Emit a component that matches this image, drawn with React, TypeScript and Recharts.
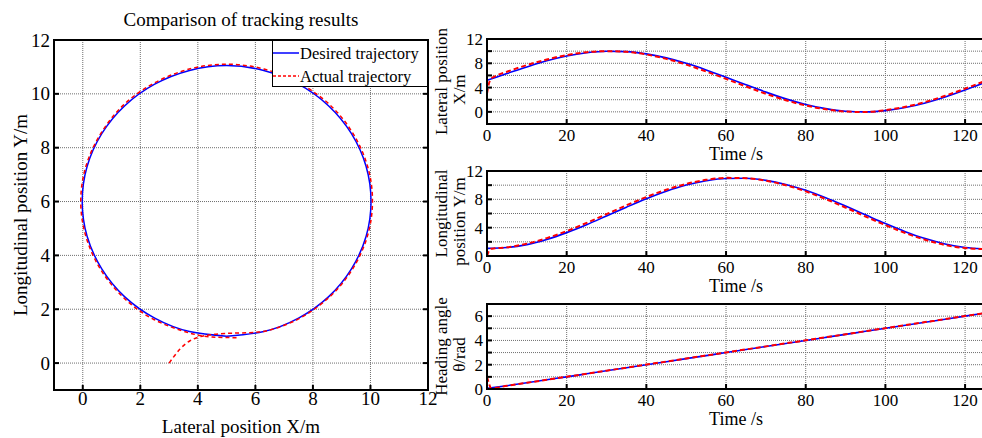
import React from 'react';
import { LineChart, Line, XAxis, YAxis, CartesianGrid } from 'recharts';

const SERIF = '"Liberation Serif", "Times New Roman", Times, serif';
const BLUE = '#0000ff';
const RED = '#ff0000';
const GRID = '#6e6e6e';

// left plot: trajectory in the X-Y plane (m)
const PATH_X_DESIRED = [5.0, 6.29, 7.5, 8.54, 9.34, 9.85, 10.02, 9.85, 9.34, 8.54, 7.5, 6.29, 5.0, 3.71, 2.5, 1.46, 0.66, 0.15, -0.02, 0.15, 0.66, 1.46, 2.5, 3.71, 5.0];
const PATH_Y_DESIRED = [1.0, 1.17, 1.67, 2.46, 3.5, 4.71, 6.0, 7.3, 8.52, 9.56, 10.36, 10.87, 11.05, 10.87, 10.36, 9.56, 8.52, 7.3, 6.0, 4.71, 3.5, 2.46, 1.67, 1.17, 1.0];
const PATH_X_ACTUAL = [3.0, 3.38, 3.73, 4.08, 4.5, 4.95, 5.5, 6.1, 6.6, 7.5, 8.56, 9.37, 9.89, 10.07, 9.9, 9.38, 8.58, 7.52, 6.3, 5.0, 3.7, 2.48, 1.43, 0.63, 0.11, -0.07, 0.11, 0.63, 1.43, 2.47, 3.7, 4.5, 5.35];
const PATH_Y_ACTUAL = [0.0, 0.52, 0.83, 0.98, 1.06, 1.1, 1.12, 1.15, 1.26, 1.64, 2.44, 3.48, 4.7, 6.0, 7.31, 8.55, 9.6, 10.4, 10.92, 11.1, 10.92, 10.4, 9.6, 8.53, 7.31, 6.0, 4.7, 3.46, 2.42, 1.62, 1.12, 0.97, 0.94];
const PLANE_DOMAIN = [-1, 12];
const PLANE_TICKS = [0, 2, 4, 6, 8, 10, 12];

// right plots: time histories
const T_DESIRED = [0, 5, 10, 15, 20, 25, 30, 35, 40, 45, 50, 55, 60, 65, 70, 75, 80, 85, 90, 95, 100, 105, 110, 115, 120, 125];
const X_DESIRED = [5.2, 6.3, 7.4, 8.41, 9.21, 9.74, 9.99, 9.92, 9.55, 8.89, 7.99, 6.91, 5.71, 4.46, 3.25, 2.14, 1.22, 0.53, 0.11, 0.0, 0.21, 0.71, 1.47, 2.45, 3.6, 4.83];
const Y_DESIRED = [1.08, 1.2, 1.61, 2.34, 3.3, 4.42, 5.65, 6.89, 8.08, 9.14, 10.01, 10.62, 10.95, 10.97, 10.68, 10.1, 9.27, 8.23, 7.05, 5.81, 4.58, 3.44, 2.46, 1.7, 1.2, 1.0];
const H_DESIRED = [0.05, 0.27, 0.51, 0.76, 1.0, 1.25, 1.5, 1.75, 2.0, 2.25, 2.5, 2.75, 3.0, 3.25, 3.5, 3.75, 4.0, 4.25, 4.5, 4.75, 5.0, 5.25, 5.5, 5.75, 6.0, 6.25];

const T_ACTUAL = [0, 0.5, 1, 2, 5, 10, 15, 20, 25, 30, 35, 40, 45, 50, 55, 60, 65, 70, 75, 80, 85, 90, 95, 100, 105, 110, 115, 120, 125];
const X_ACTUAL = [3.0, 4.7, 5.4, 5.85, 6.6, 7.7, 8.62, 9.35, 9.82, 10.0, 9.88, 9.45, 8.73, 7.78, 6.65, 5.43, 4.18, 2.98, 1.92, 1.05, 0.42, 0.05, -0.03, 0.28, 0.83, 1.63, 2.65, 3.82, 5.08];
const Y_ACTUAL = [0.0, 0.75, 1.02, 1.08, 1.22, 1.75, 2.52, 3.52, 4.67, 5.92, 7.16, 8.33, 9.36, 10.18, 10.75, 11.03, 10.98, 10.62, 10.0, 9.12, 8.04, 6.84, 5.58, 4.36, 3.24, 2.28, 1.56, 1.12, 0.98];
const H_ACTUAL = [1.0, 0.45, 0.06, 0.09, 0.26, 0.51, 0.76, 1.01, 1.26, 1.51, 1.76, 2.01, 2.26, 2.51, 2.76, 3.01, 3.26, 3.51, 3.76, 4.01, 4.26, 4.51, 4.76, 5.01, 5.26, 5.51, 5.76, 6.01, 6.26];
const TIME_DOMAIN = [0, 125];
const TIME_TICKS = [0, 20, 40, 60, 80, 100, 120];

const SERIES = [
    { name: 'Desired trajectory', color: BLUE, dash: undefined },
    { name: 'Actual trajectory', color: RED, dash: '3 2' },
];

const PANELS = [
    { id: 'lat', top: 20, des: X_DESIRED, act: X_ACTUAL, domain: [-2, 12], ticks: [-2, 0, 2, 4, 6, 8, 10, 12], shown: [0, 4, 8, 12], title: ['Lateral position', 'X/m'] },
    { id: 'lon', top: 152, des: Y_DESIRED, act: Y_ACTUAL, domain: [0, 12], ticks: [0, 2, 4, 6, 8, 10, 12], shown: [0, 4, 8, 12], title: ['Longitudinal', 'position Y/m'] },
    { id: 'head', top: 285, des: H_DESIRED, act: H_ACTUAL, domain: [0, 7], ticks: [0, 1, 2, 3, 4, 5, 6, 7], shown: [0, 2, 4, 6], title: ['Heading angle', 'θ/rad'] },
];

const zip = (xs: number[], ys: number[], kx: string, ky: string) =>
    xs.map((x, i) => ({ [kx]: x, [ky]: ys[i] }));

const TICK_LEN = 5;

// tick = inward black mark + (optional) label, placed from the axis' own tick coordinates
function makeTick(side: string, margin: number, fontSize: number, show?: (v: number) => boolean) {
    return (p: any) => {
        const { x, y, payload } = p;
        const v = payload.value;
        const txt = show && show(v) ? String(v) : '';
        const font = { fontSize, fontFamily: SERIF, fill: '#000' };
        if (side === 'bottom') {
            const y0 = y - margin;
            return (
                <g>
                    <line x1={x} x2={x} y1={y0} y2={y0 - TICK_LEN} stroke="#000" strokeWidth={2} />
                    {txt && <text x={x} y={y} dy="0.71em" textAnchor="middle" {...font}>{txt}</text>}
                </g>
            );
        }
        if (side === 'left') {
            const x0 = x + margin;
            return (
                <g>
                    <line x1={x0} x2={x0 + TICK_LEN} y1={y} y2={y} stroke="#000" strokeWidth={2} />
                    {txt && <text x={x} y={y} dy="0.35em" textAnchor="end" {...font}>{txt}</text>}
                </g>
            );
        }
        if (side === 'top') {
            return <line x1={x} x2={x} y1={y} y2={y + TICK_LEN} stroke="#000" strokeWidth={2} />;
        }
        return <line x1={x} x2={x - TICK_LEN} y1={y} y2={y} stroke="#000" strokeWidth={2} />;
    };
}

function PlainText({ px, py, txt, size }: any) {
    return (
        <text x={px} y={py} textAnchor="middle" fontSize={size} fontFamily={SERIF} fill="#000">
            {txt}
        </text>
    );
}

// plot frame (+ optional title), attached to the top axis
function FrameTitle({ box, txt, size, tx, ty }: any) {
    return (
        <g>
            <rect x={box[0]} y={box[1]} width={box[2]} height={box[3]} fill="none" stroke="#000" strokeWidth={2} />
            {txt && (
                <text x={tx} y={ty} textAnchor="middle" fontSize={size} fontFamily={SERIF} fill="#000">
                    {txt}
                </text>
            )}
        </g>
    );
}

// rotated axis title, one <text> per line
function SideTitle({ xs, ys, lines, size }: any) {
    return (
        <g>
            {lines.map((ln: string, i: number) => (
                <text
                    key={ln}
                    x={xs[i]}
                    y={ys[i]}
                    transform={`rotate(-90 ${xs[i]} ${ys[i]})`}
                    textAnchor="middle"
                    dy="0.33em"
                    fontSize={size}
                    fontFamily={SERIF}
                    fill="#000"
                >
                    {ln}
                </text>
            ))}
        </g>
    );
}

function LegendBox() {
    return (
        <svg width={156} height={47} style={{ display: 'block' }}>
            <rect x={0.5} y={0.5} width={155} height={46} fill="#fff" stroke="#000" strokeWidth={1} />
            {SERIES.map((s, i) => (
                <g key={s.name}>
                    <line x1={1} x2={27} y1={13 + i * 23} y2={13 + i * 23} stroke={s.color} strokeWidth={1.5} strokeDasharray={s.dash} />
                    <text x={28} y={19 + i * 22.5} fontSize={16.5} fontFamily={SERIF} fill="#000">
                        {s.name}
                    </text>
                </g>
            ))}
        </svg>
    );
}

function PlanePlot() {
    const desired = zip(PATH_X_DESIRED, PATH_Y_DESIRED, 'x', 'y');
    const actual = zip(PATH_X_ACTUAL, PATH_Y_ACTUAL, 'x', 'y');
    const always = () => true;
    return (
        <LineChart width={445} height={438} margin={{ top: 39, right: 16, bottom: 18, left: 14 }}>
            <CartesianGrid stroke={GRID} strokeDasharray="1 1" />
            <XAxis
                dataKey="x"
                type="number"
                domain={PLANE_DOMAIN}
                ticks={PLANE_TICKS}
                interval={0}
                allowDataOverflow
                height={30}
                tickSize={0}
                tickMargin={2}
                axisLine={false}
                tickLine={false}
                tick={makeTick('bottom', 2, 19, always)}
                label={<PlainText px={241} py={433} size={19} txt="Lateral position X/m" />}
            />
            <XAxis
                xAxisId="top"
                orientation="top"
                type="number"
                domain={PLANE_DOMAIN}
                ticks={PLANE_TICKS}
                interval={0}
                allowDataOverflow
                height={1}
                tickSize={0}
                tickMargin={0}
                axisLine={false}
                tickLine={false}
                tick={makeTick('top', 0, 19)}
                label={<FrameTitle box={[54, 40, 374, 350]} txt="Comparison of tracking results" size={19} tx={241} ty={25.5} />}
            />
            <YAxis
                type="number"
                domain={PLANE_DOMAIN}
                ticks={PLANE_TICKS}
                interval={0}
                allowDataOverflow
                width={40}
                tickSize={0}
                tickMargin={4}
                axisLine={false}
                tickLine={false}
                tick={makeTick('left', 4, 19, always)}
                label={<SideTitle xs={[21]} ys={[215]} lines={['Longitudinal position Y/m']} size={19} />}
            />
            <YAxis
                yAxisId="right"
                orientation="right"
                type="number"
                domain={PLANE_DOMAIN}
                ticks={PLANE_TICKS}
                interval={0}
                allowDataOverflow
                width={1}
                tickSize={0}
                tickMargin={0}
                axisLine={false}
                tickLine={false}
                tick={makeTick('right', 0, 19)}
            />
            <Line data={desired} dataKey="y" type="natural" stroke={BLUE} strokeWidth={1.5} dot={false} activeDot={false} isAnimationActive={false} />
            <Line data={actual} dataKey="y" type="natural" stroke={RED} strokeWidth={1.5} strokeDasharray="4 3" dot={false} activeDot={false} isAnimationActive={false} />
        </LineChart>
    );
}

function TimePlot({ panel }: any) {
    const desired = zip(T_DESIRED, panel.des, 't', 'v');
    const actual = zip(T_ACTUAL, panel.act, 't', 'v');
    const cy = 19 + 85 / 2;
    return (
        <LineChart width={555} height={150} margin={{ top: 18, right: 0, bottom: 22, left: 0 }}>
            <CartesianGrid stroke={GRID} strokeDasharray="1 1" />
            <XAxis
                dataKey="t"
                type="number"
                domain={TIME_DOMAIN}
                ticks={TIME_TICKS}
                interval={0}
                allowDataOverflow
                height={24}
                tickSize={0}
                tickMargin={5}
                axisLine={false}
                tickLine={false}
                tick={makeTick('bottom', 5, 17, () => true)}
                label={<PlainText px={306} py={140} size={18} txt="Time /s" />}
            />
            <XAxis
                xAxisId="top"
                orientation="top"
                type="number"
                domain={TIME_DOMAIN}
                ticks={TIME_TICKS}
                interval={0}
                allowDataOverflow
                height={1}
                tickSize={0}
                tickMargin={0}
                axisLine={false}
                tickLine={false}
                tick={makeTick('top', 0, 17)}
                label={<FrameTitle box={[57, 19, 500, 85]} />}
            />
            <YAxis
                type="number"
                domain={panel.domain}
                ticks={panel.ticks}
                interval={0}
                allowDataOverflow
                width={57}
                tickSize={0}
                tickMargin={4}
                axisLine={false}
                tickLine={false}
                tick={makeTick('left', 4, 17, (v: number) => panel.shown.includes(v))}
                label={<SideTitle xs={[11, 29]} ys={[cy, cy + 8]} lines={panel.title} size={17} />}
            />
            <Line data={desired} dataKey="v" type="monotone" stroke={BLUE} strokeWidth={1.6} dot={false} activeDot={false} isAnimationActive={false} />
            <Line data={actual} dataKey="v" type="monotone" stroke={RED} strokeWidth={2} strokeDasharray="5 3" dot={false} activeDot={false} isAnimationActive={false} />
        </LineChart>
    );
}

export default function App() {
    return (
        <div style={{ position: 'absolute', left: 0, top: 0, width: 982, height: 438, overflow: 'hidden', background: '#fff' }}>
            <div style={{ position: 'absolute', left: 0, top: 0 }}>
                <PlanePlot />
            </div>
            {PANELS.map((p) => (
                <div key={p.id} style={{ position: 'absolute', left: 430, top: p.top }}>
                    <TimePlot panel={p} />
                </div>
            ))}
            {/* frame of the left plot, drawn over the chart */}
            <div style={{ position: 'absolute', left: 53, top: 39, width: 376, height: 352, border: '2px solid #000', boxSizing: 'border-box', pointerEvents: 'none' }} />
            <div style={{ position: 'absolute', left: 272, top: 40 }}>
                <LegendBox />
            </div>
        </div>
    );
}
